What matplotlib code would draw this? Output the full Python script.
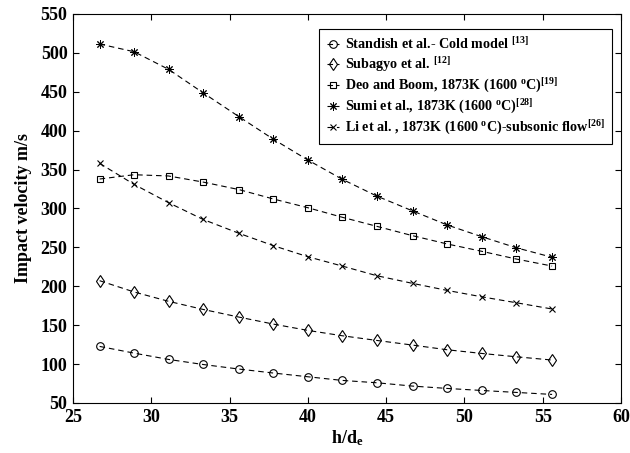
import matplotlib
matplotlib.use("Agg")
import matplotlib.pyplot as plt

plt.rcParams['font.family'] = ['Liberation Serif', 'DejaVu Serif']
plt.rcParams['font.weight'] = 'bold'
plt.rcParams['mathtext.fontset'] = 'custom'
plt.rcParams['mathtext.rm'] = 'Liberation Serif:bold'
plt.rcParams['mathtext.bf'] = 'Liberation Serif:bold'
plt.rcParams['mathtext.it'] = 'Liberation Serif:bold'

# nozzle height ratio h/d_e
h_de = [26.7, 28.9, 31.1, 33.3, 35.6, 37.8, 40.0, 42.2, 44.4, 46.7, 48.9, 51.1, 53.3, 55.6]

# impact velocity (m/s) for each model
standish = [122.7, 114.1, 106.0, 99.5, 93.6, 88.5, 83.7, 79.0, 76.0, 71.7, 68.7, 66.1, 63.6, 61.0]
subagyo = [207.2, 192.7, 180.7, 170.3, 160.4, 151.4, 143.3, 136.4, 130.4, 124.4, 118.4, 113.7, 109.4, 105.2]
deo_boom = [337.9, 343.4, 341.8, 334.0, 324.3, 312.2, 301.0, 288.7, 277.1, 265.0, 254.4, 245.0, 235.1, 226.0]
sumi = [511.4, 501.5, 478.9, 448.8, 418.0, 389.0, 362.3, 337.5, 316.0, 296.8, 278.8, 263.8, 249.6, 237.3]
li = [358.0, 331.0, 307.5, 286.0, 268.1, 252.2, 238.0, 226.0, 213.6, 203.7, 194.7, 186.5, 178.9, 170.8]

labels = [
    r"Standish et al.- Cold model $^{[13]}$",
    r"Subagyo et al. $^{[12]}$",
    r"Deo and Boom, 1873K (1600 $^{o}$C)$^{[19]}$",
    r"Sumi et al., 1873K (1600 $^{o}$C)$^{[28]}$",
    r"Li et al. , 1873K (1600 $^{o}$C)-subsonic flow$^{[26]}$",
]

fig = plt.figure(figsize=(6.3, 4.53), dpi=100)
ax = fig.add_axes([0.1159, 0.1104, 0.8698, 0.8587])

style = dict(color='black', linestyle=(0, (5, 3.5)), linewidth=0.8,
             markerfacecolor='none', markeredgecolor='black', markeredgewidth=0.8)
ax.plot(h_de, standish, marker='o', markersize=5.5, label=labels[0], **style)
ax.plot(h_de, subagyo, marker='d', markersize=6, label=labels[1], **style)
ax.plot(h_de, deo_boom, marker='s', markersize=4.5, label=labels[2], **style)
ax.plot(h_de, sumi, marker=(8, 2, 0), markersize=6, label=labels[3],
        **{**style, 'markeredgewidth': 0.7})
ax.plot(h_de, li, marker='x', markersize=5, label=labels[4], **style)

ax.set_xlim(25, 60)
ax.set_ylim(50, 550)
ax.set_xticks(range(25, 61, 5))
ax.set_yticks(range(50, 551, 50))
ax.tick_params(direction='in', length=4, width=0.8, top=True, right=True,
               labelsize=13, pad=4)
for lab in ax.get_xticklabels() + ax.get_yticklabels():
    lab.set_fontweight('bold')
for sp in ax.spines.values():
    sp.set_linewidth(0.8)

ax.set_xlabel(r"h/d$_{\mathbf{e}}$", fontsize=13, fontweight='bold', labelpad=2)
ax.set_ylabel("Impact velocity m/s", fontsize=13, fontweight='bold', labelpad=6)

leg = ax.legend(loc='upper right', bbox_to_anchor=(0.9836, 0.961), fontsize=10.2,
                frameon=True, fancybox=False, edgecolor='black', framealpha=1,
                handlelength=0.9, handletextpad=0.4, borderpad=0.5,
                labelspacing=0.2, borderaxespad=0.0)
leg.get_frame().set_linewidth(0.8)

fig.savefig("out.png", dpi=100)
